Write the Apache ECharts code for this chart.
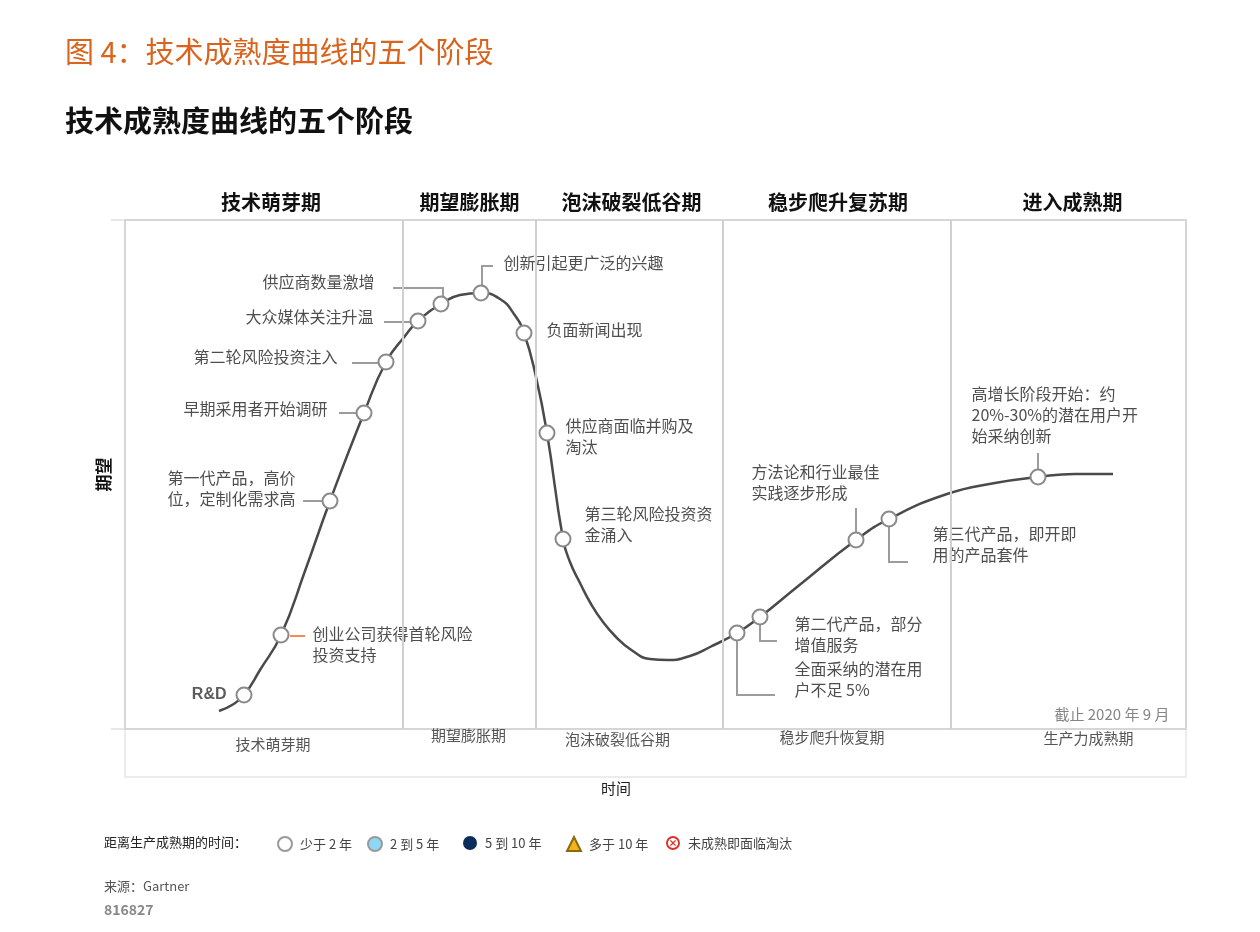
<!DOCTYPE html>
<html><head><meta charset="utf-8">
<script src="https://cdn.jsdelivr.net/npm/echarts@6/dist/echarts.min.js"></script>
<style>html,body{margin:0;padding:0;background:#fff}#c{width:1260px;height:932px}</style>
</head><body><div id="c"></div>
<script>
const FONT = '"Noto Sans CJK SC", "Noto Sans", sans-serif';

// Hype curve (time, expectation)
const curveTime   = [94,107,119,135,156,180,205,239,261,280,293,316,335,356,375,389,399,411,422,438,445,455,466,478,491,505,525,543,565,585,612,635,672,731,764,822,870,913,950,988];
const curveExpect = [18,24,34,59,94,158,228,316,367,393,408,425,434,436,430,415,396,352,296,190,167,146,125,107,92,80,70,69,73,82,96,112,142,189,210,235,246,252,255,255];

// Milestone markers on the curve
const markerTime   = [119,156,205,239,261,293,316,356,399,422,438,612,635,731,764,913];
const markerExpect = [34,94,228,316,367,408,425,436,396,296,190,96,112,189,210,252];

// Annotation texts and their anchor points
const noteText = [
  '供应商数量激增','大众媒体关注升温','第二轮风险投资注入','早期采用者开始调研',
  '第一代产品，高价\n位，定制化需求高','创业公司获得首轮风险\n投资支持','R&D',
  '创新引起更广泛的兴趣','负面新闻出现','供应商面临并购及\n淘汰','第三轮风险投资资\n金涌入',
  '方法论和行业最佳\n实践逐步形成','第二代产品，部分\n增值服务','全面采纳的潜在用\n户不足 5%',
  '第三代产品，即开即\n用的产品套件','高增长阶段开始：约\n20%-30%的潜在用户开\n始采纳创新','截止 2020 年 9 月'
];
const noteTime   = [250,249,213,203,171,188,102,379,422,441,460,627,670,670,808,847,1045];
const noteExpect = [447,412,372,320,240,84,34,466,399,292,204,246,94,49,184,314,14];
const noteAlign  = ['right','right','right','right','right','left','right','left','left','left','left','left','left','left','left','left','right'];

// Leader lines (time, expectation) polylines
const leaderPaths = [
  [[268,441],[318,441],[318,432]],
  [[259,407],[286,407]],
  [[227,366],[254,366]],
  [[214,316],[232,316]],
  [[178,228],[197,228]],
  [[165,93],[180,93]],
  [[368,463],[357,463],[357,443]],
  [[612,88],[612,34],[650,34]],
  [[635,104],[635,88],[652,88]],
  [[731,197],[731,221]],
  [[764,202],[764,167],[783,167]],
  [[913,260],[913,276]]
];

// Phases
const phaseBounds  = [0,278,411,598,826,1061];
const topPhases    = ['技术萌芽期','期望膨胀期','泡沫破裂低谷期','稳步爬升复苏期','进入成熟期'];
const bottomPhases = ['技术萌芽期','期望膨胀期','泡沫破裂低谷期','稳步爬升恢复期','生产力成熟期'];
const topOffsets    = [[7,0],[0,0],[2,0],[1,0],[4,0]];
const bottomOffsets = [[9,4],[-1,-5],[-12,-1],[-5,-3],[20,-2]];

// Legend categories
const legendNames = ['少于 2 年','2 到 5 年','5 到 10 年','多于 10 年','未成熟即面临淘汰'];
const legendLeft  = [277,367,463,566,666];

const chart = echarts.init(document.getElementById('c'), null, {renderer:'canvas'});

const curveData  = curveTime.map((t,i)=>[t, curveExpect[i]]);
const markerData = markerTime.map((t,i)=>[t, markerExpect[i]]);
const noteData = noteText.map((s,i)=>{
  const item = {value:[noteTime[i], noteExpect[i]], name:s, label:{align:noteAlign[i]}};
  if (s === 'R&D') item.label = {align:'right', fontFamily:'"Liberation Sans", Arial, sans-serif', fontWeight:'bold', fontSize:16, color:'#333'};
  if (s.startsWith('截止')) item.label = {align:'right', fontSize:15, color:'#666'};
  return item;
});
const leaderData = leaderPaths.map((p,i)=>{
  const d = {coords:p};
  if (i === 5) d.lineStyle = {color:'#F08C5A'};
  return d;
});
const topArea = topPhases.map((n,i)=>[
  {name:n, xAxis:phaseBounds[i], label:{offset:topOffsets[i]}}, {xAxis:phaseBounds[i+1]}
]);
const bottomArea = bottomPhases.map((n,i)=>[
  {name:n, xAxis:phaseBounds[i], label:{offset:bottomOffsets[i]}}, {xAxis:phaseBounds[i+1]}
]);
const dividers = phaseBounds.slice(1,5).map(v=>({xAxis:v}));

const crossIcon = 'path://M12,1 A11,11 0 1,1 11.99,1 Z M12,4 A8,8 0 1,0 12.01,4 Z M8.6,7.2 L12,10.6 L15.4,7.2 L16.8,8.6 L13.4,12 L16.8,15.4 L15.4,16.8 L12,13.4 L8.6,16.8 L7.2,15.4 L10.6,12 L7.2,8.6 Z';
const legendIcons = ['circle','circle','circle','triangle',crossIcon];
const legendStyles = [
  {color:'#ffffff', borderColor:'#9a9a9a', borderWidth:1.5, opacity:1},
  {color:'#8fd8f5', borderColor:'#9a9a9a', borderWidth:1, opacity:1},
  {color:'#0b2d5b', borderColor:'#0b2d5b', borderWidth:0, opacity:1},
  {color:'#f2b31b', borderColor:'#8a6a10', borderWidth:0.8, opacity:1},
  {color:'#d9342b', borderColor:'#d9342b', borderWidth:0, opacity:1}
];

const option = {
  animation:false,
  textStyle:{fontFamily:FONT},
  grid:[
    {left:125, top:220, width:1061, height:509, show:true, borderColor:'#d6d6d6', borderWidth:2, z:1},
    {left:125, top:729, width:1061, height:48, show:true, borderColor:'#e6e6e6', borderWidth:1.5, z:0}
  ],
  xAxis:[
    {gridIndex:0, type:'value', min:0, max:1061, axisLine:{show:true, lineStyle:{color:'#ababab', width:2}}, axisTick:{show:false}, axisLabel:{show:false}, splitLine:{show:false}},
    {gridIndex:1, type:'value', min:0, max:1061, axisLine:{show:false}, axisTick:{show:false}, axisLabel:{show:false}, splitLine:{show:false},
     name:'时间', nameLocation:'middle', nameGap:4, nameTextStyle:{fontSize:15, color:'#222', fontFamily:FONT, padding:[0,79,0,0]}}
  ],
  yAxis:[
    {gridIndex:0, type:'value', min:0, max:509, interval:509, axisLine:{show:false}, axisTick:{show:true, length:14, lineStyle:{color:'#e0e0e0', width:1.5}}, axisLabel:{show:false}, splitLine:{show:false},
     name:'期望', nameLocation:'middle', nameGap:13, nameTextStyle:{fontSize:17, fontWeight:'bold', color:'#111', fontFamily:FONT}},
    {gridIndex:1, type:'value', min:0, max:48, show:false}
  ],
  legend: legendNames.map((n,i)=>({
    data:[{name:n, icon:legendIcons[i]}], left:legendLeft[i], top:836, padding:0,
    itemWidth:14, itemHeight:14, selectedMode:false,
    textStyle:{fontSize:13, color:'#444', fontFamily:FONT, padding:[0,0,0,3]}
  })),
  graphic:[
    {type:'text', x:65, y:52, style:{text:'图 4：技术成熟度曲线的五个阶段', fill:'#D8641E', font:'29px '+FONT, textVerticalAlign:'middle'}},
    {type:'text', x:65, y:121, style:{text:'技术成熟度曲线的五个阶段', fill:'#111', font:'bold 29px '+FONT, textVerticalAlign:'middle'}},
    {type:'text', x:104, y:842, style:{text:'距离生产成熟期的时间：', fill:'#222', font:'13px '+FONT, textVerticalAlign:'middle'}},
    {type:'text', x:104, y:886, style:{text:'来源：Gartner', fill:'#555', font:'13px '+FONT, textVerticalAlign:'middle'}},
    {type:'text', x:104, y:910, style:{text:'816827', fill:'#888', font:'bold 14px '+FONT, textVerticalAlign:'middle'}}
  ],
  series:[
    {
      name:'curve', type:'line', xAxisIndex:0, yAxisIndex:0, data:curveData, smooth:0.5, symbol:'none', clip:false, silent:true, z:3,
      lineStyle:{color:'#4a4a4a', width:2.5},
      markArea:{silent:true, itemStyle:{color:'rgba(0,0,0,0)'},
        label:{show:true, position:'top', distance:8, fontSize:20, fontWeight:'bold', color:'#111', fontFamily:FONT},
        data:topArea}
    },
    {
      name:'leaders', type:'lines', coordinateSystem:'cartesian2d', xAxisIndex:0, yAxisIndex:0, polyline:true, silent:true, z:2,
      lineStyle:{color:'#9c9c9c', width:2, opacity:1}, data:leaderData
    },
    {
      name:'markers', type:'scatter', xAxisIndex:0, yAxisIndex:0, data:markerData, symbol:'circle', symbolSize:15, clip:false, silent:true, z:5,
      itemStyle:{color:'#ffffff', borderColor:'#8a8a8a', borderWidth:2, opacity:1},
      markArea:{silent:true, itemStyle:{color:'rgba(0,0,0,0)'},
        label:{show:true, position:'bottom', distance:4, fontSize:15, color:'#555', fontFamily:FONT},
        data:bottomArea}
    },
    {
      name:'notes', type:'scatter', xAxisIndex:0, yAxisIndex:0, data:noteData, symbolSize:1, clip:false, silent:true, z:4,
      itemStyle:{color:'rgba(0,0,0,0)'},
      label:{show:true, formatter:'{b}', position:[0,0], verticalAlign:'middle', fontSize:16, lineHeight:21, color:'#222', fontFamily:FONT},
      markLine:{silent:true, symbol:['none','none'], label:{show:false}, lineStyle:{color:'#d0d0d0', width:2, type:'solid'}, data:dividers}
    }
  ].concat(legendNames.map((n,i)=>({
    name:n, type:'scatter', xAxisIndex:0, yAxisIndex:0, data:[], itemStyle:legendStyles[i]
  })))
};
chart.setOption(option);
</script>
</body></html>
